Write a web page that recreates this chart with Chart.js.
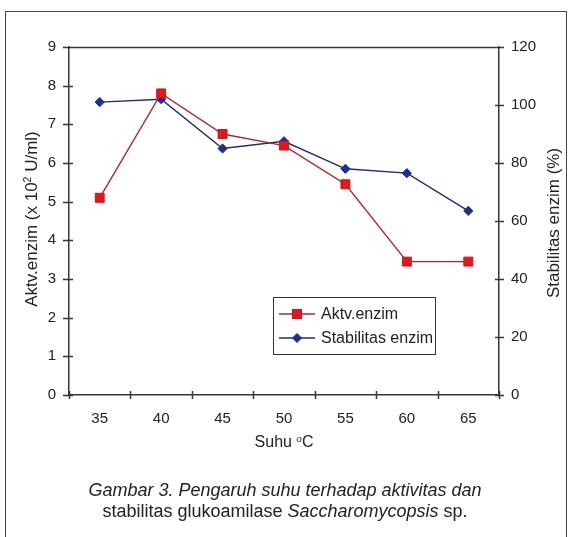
<!DOCTYPE html>
<html>
<head>
<meta charset="utf-8">
<script src="https://cdn.jsdelivr.net/npm/chart.js@4/dist/chart.umd.min.js"></script>
<style>
  html, body { margin: 0; padding: 0; background: #fff; }
  #wrap { position: relative; width: 569px; height: 537px; overflow: hidden;
          font-family: "Liberation Sans", Arial, sans-serif; color: #222; }
  #c { position: absolute; left: 0; top: 0; }
  .frame { position: absolute; left: 5px; top: 11px; width: 560px; height: 530px;
           border-left: 1.5px solid #444; border-top: 1.5px solid #444; border-right: 1.5px solid #444; }
  .lbl { position: absolute; white-space: nowrap; transform: translate(-50%, -50%); line-height: 1; }
  .rot { transform: translate(-50%, -50%) rotate(-90deg); }
  sup { font-size: 0.62em; vertical-align: 0.55em; line-height: 0; }
  .legend { position: absolute; left: 273px; top: 297px; width: 161px; height: 56px;
            border: 1.5px solid #333; background: #fff; font-size: 16px; }
  .legend .row { position: absolute; left: 4px; height: 16px; display: flex; align-items: center; }
  .legend svg { margin-right: 5px; }
  .caption { position: absolute; left: 285px; transform: translateX(-50%); white-space: nowrap;
             font-size: 18px; line-height: 21px; text-align: center; top: 480px; }
</style>
</head>
<body>
<div id="wrap">
  <canvas id="c" width="569" height="537"></canvas>
  <div class="frame"></div>
  <div class="lbl rot" style="left:31px; top:219px; font-size:17px;">Aktv.enzim (x 10<sup>2</sup> U/ml)</div>
  <div class="lbl rot" style="left:553px; top:223px; font-size:17px;">Stabilitas enzim (%)</div>
  <div class="lbl" style="left:284px; top:442px; font-size:16px;">Suhu <sup>o</sup>C</div>
  <div class="legend">
    <div class="row" style="top:8px;">
      <svg width="38" height="14"><line x1="1" y1="7" x2="37" y2="7" stroke="#b0262b" stroke-width="1.5"/><rect x="14.5" y="2.5" width="9" height="9" fill="#e3171c" stroke="#c8161b" stroke-width="1"/></svg>
      <span>Aktv.enzim</span>
    </div>
    <div class="row" style="top:32px;">
      <svg width="38" height="14"><line x1="1" y1="7" x2="37" y2="7" stroke="#1f2b78" stroke-width="1.5"/><polygon points="19,2.5 23.5,7 19,11.5 14.5,7" fill="#1a2f9e" stroke="#1a2a88" stroke-width="1"/></svg>
      <span>Stabilitas enzim</span>
    </div>
  </div>
  <div class="caption">
    <i>Gambar 3. Pengaruh suhu terhadap aktivitas dan</i><br>
    stabilitas glukoamilase <i>Saccharomycopsis</i> sp.
  </div>
</div>
<script>
// Temperature categories (°C)
const suhu = ['35', '40', '45', '50', '55', '60', '65'];
// Enzyme activity (x 10^2 U/ml)
const aktivitas = [5.1, 7.8, 6.75, 6.45, 5.45, 3.45, 3.45];
// Enzyme stability (%)
const stabilitas = [101, 102, 85, 87.5, 78, 76.5, 63.5];
// Axis ranges and tick steps
const aktRange = [0, 9];
const aktStep = 1;
const stabRange = [0, 120];
const stabStep = 20;

const AXIS_COLOR = '#363636';
const FONT = '"Liberation Sans", Arial, sans-serif';

// Closes the plot box on top and draws tick marks that cross each axis line
const plotFrame = {
  id: 'plotFrame',
  afterDraw(chart) {
    const { ctx, chartArea: a, scales } = chart;
    ctx.save();
    ctx.strokeStyle = AXIS_COLOR;
    ctx.lineWidth = 1.5;
    ctx.beginPath();
    ctx.moveTo(a.left, Math.round(a.top) + 0.5);
    ctx.lineTo(a.right, Math.round(a.top) + 0.5);
    scales.y.ticks.forEach(t => {
      const py = Math.round(scales.y.getPixelForValue(t.value)) + 0.5;
      ctx.moveTo(a.left - 6, py); ctx.lineTo(a.left + 4, py);
    });
    scales.y2.ticks.forEach(t => {
      const py = Math.round(scales.y2.getPixelForValue(t.value)) + 0.5;
      ctx.moveTo(a.right - 4, py); ctx.lineTo(a.right + 5, py);
    });
    for (let i = 0; i <= suhu.length; i++) {
      const px = Math.round(scales.x.getPixelForValue(i - 0.5)) + 0.5;
      ctx.moveTo(px, a.bottom - 4); ctx.lineTo(px, a.bottom + 4);
    }
    ctx.stroke();
    ctx.restore();
  }
};

new Chart(document.getElementById('c'), {
  type: 'line',
  data: {
    labels: suhu,
    datasets: [
      {
        label: 'Aktv.enzim',
        data: aktivitas,
        yAxisID: 'y',
        borderColor: '#b0262b',
        borderWidth: 1.4,
        pointStyle: 'rect',
        pointRadius: 6.3,
        pointBackgroundColor: '#e3171c',
        pointBorderColor: '#c8161b',
        pointBorderWidth: 1,
        tension: 0
      },
      {
        label: 'Stabilitas enzim',
        data: stabilitas,
        yAxisID: 'y2',
        borderColor: '#1f2b78',
        borderWidth: 1.4,
        pointStyle: 'rectRot',
        pointRadius: 4.6,
        pointBackgroundColor: '#1a2f9e',
        pointBorderColor: '#1a2a88',
        pointBorderWidth: 1,
        tension: 0
      }
    ]
  },
  options: {
    responsive: false,
    animation: false,
    devicePixelRatio: 1,
    layout: { padding: { top: 47, left: 0, right: 0, bottom: 0 } },
    plugins: { legend: { display: false }, tooltip: { enabled: false } },
    scales: {
      x: {
        type: 'category',
        offset: true,
        grid: { display: false, drawTicks: false },
        border: { color: AXIS_COLOR, width: 1.5 },
        ticks: { color: '#222', font: { family: FONT, size: 15 }, padding: 15, maxRotation: 0 },
        afterFit(s) { s.height = 142; }
      },
      y: {
        position: 'left',
        min: aktRange[0], max: aktRange[1],
        grid: { display: false, drawTicks: false },
        border: { color: AXIS_COLOR, width: 1.5 },
        ticks: { stepSize: aktStep, color: '#222', font: { family: FONT, size: 15 }, padding: 13 },
        afterFit(s) { s.width = 69; }
      },
      y2: {
        position: 'right',
        min: stabRange[0], max: stabRange[1],
        grid: { display: false, drawTicks: false },
        border: { color: AXIS_COLOR, width: 1.5 },
        ticks: { stepSize: stabStep, color: '#222', font: { family: FONT, size: 15 }, padding: 12 },
        afterFit(s) { s.width = 70; }
      }
    }
  },
  plugins: [plotFrame]
});
</script>
</body>
</html>
